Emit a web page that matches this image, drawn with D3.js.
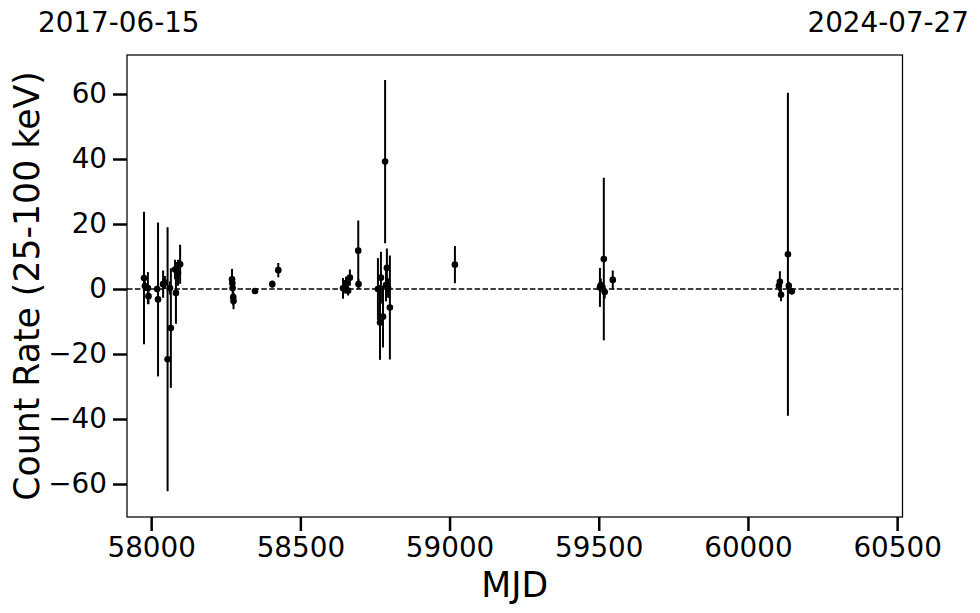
<!DOCTYPE html>
<html>
<head>
<meta charset="utf-8">
<script src="https://cdn.jsdelivr.net/npm/d3@7"></script>
<style>
  html, body { margin: 0; padding: 0; background: #fff; }
  text { font-family: "DejaVu Sans", sans-serif; fill: #000; }
</style>
</head>
<body>
<svg id="chart" width="980" height="613"></svg>
<script>
// ---- data ----
const mjd = [
  57976, 57979, 57989, 57991, 58020, 58023, 58040, 58046, 58055, 58063, 58066, 58080, 58083, 58090, 58097,
  58271, 58272, 58273, 58275, 58276, 58348, 58406, 58426,
  58643, 58650, 58653, 58660, 58666, 58694, 58695,
  58760, 58767, 58770, 58777, 58784, 58787, 58790, 58794, 58800,
  59018,
  59504, 59507, 59517, 59520, 59547,
  60104, 60107, 60111, 60134, 60137, 60147
];
const rate = [
  3.4, 0.9, 0.3, -2.2, 0.0, -3.2, 1.5, 2.0, -21.6, 0.3, -12.0, 6.0, -1.2, 5.0, 7.6,
  3.0, 1.8, 0.3, -2.5, -3.7, -0.6, 1.5, 5.8,
  0.2, 0.6, 1.8, -0.5, 3.5, 11.8, 1.5,
  0.0, -10.3, 3.5, -8.5, 39.2, 1.2, 6.5, 0.3, -5.7,
  7.5,
  0.5, 1.2, 9.2, -0.9, 2.8,
  1.0, 2.2, -1.8, 10.7, 1.0, -0.7
];
const rateErr = [
  20.4, 1.5, 4.9, 2.5, 1.0, 23.7, 4.2, 2.0, 40.6, 2.0, 18.4, 3.0, 9.5, 4.0, 6.0,
  3.2, 2.0, 2.0, 2.5, 2.5, 0.5, 1.1, 2.2,
  3.2, 2.0, 2.0, 1.5, 2.5, 9.3, 1.5,
  9.5, 11.5, 8.0, 9.5, 25.1, 5.0, 6.0, 3.0, 16.0,
  5.7,
  6.0, 2.0, 25.0, 2.0, 2.9,
  1.5, 3.3, 2.0, 49.7, 1.2, 1.0
];
const xTicks = [58000, 58500, 59000, 59500, 60000, 60500];
const yTicks = [-60, -40, -20, 0, 20, 40, 60];
const xDomain = [57919, 60518];
const yDomain = [-70.15, 72.0];
const startDate = "2017-06-15";
const endDate = "2024-07-27";
const xLabel = "MJD";
const yLabel = "Count Rate (25-100 keV)";

// ---- layout ----
const svg = d3.select("#chart");
const L = 127, R = 902.5, T = 55, B = 517;
const x = d3.scaleLinear().domain(xDomain).range([L, R]);
const y = d3.scaleLinear().domain(yDomain).range([B, T]);

svg.append("rect").attr("width", 980).attr("height", 613).attr("fill", "#fff");

const pts = mjd.map((m, i) => ({ m, v: rate[i], e: rateErr[i] }));

const plot = svg.append("g");
plot.append("clipPath").attr("id", "clip").append("rect")
  .attr("x", L).attr("y", T).attr("width", R - L).attr("height", B - T);
const g = plot.append("g").attr("clip-path", "url(#clip)");

// zero line
g.append("line")
  .attr("x1", L).attr("x2", R).attr("y1", y(0)).attr("y2", y(0))
  .attr("stroke", "#000").attr("stroke-width", 1.5)
  .attr("stroke-dasharray", "5.5,2.4");

// error bars
g.selectAll("line.err").data(pts).enter().append("line")
  .attr("class", "err")
  .attr("x1", d => x(d.m)).attr("x2", d => x(d.m))
  .attr("y1", d => y(d.v + d.e)).attr("y2", d => y(d.v - d.e))
  .attr("stroke", "#000").attr("stroke-width", 2);

// markers
g.selectAll("circle").data(pts).enter().append("circle")
  .attr("cx", d => x(d.m)).attr("cy", d => y(d.v)).attr("r", 3.3)
  .attr("fill", "#000");

// frame
svg.append("rect").attr("x", L).attr("y", T).attr("width", R - L).attr("height", B - T)
  .attr("fill", "none").attr("stroke", "#000").attr("stroke-width", 1.25);

// axes
const xAxis = d3.axisBottom(x).tickValues(xTicks).tickFormat(d3.format("d"))
  .tickSize(14).tickPadding(6);
const xg = svg.append("g").attr("transform", `translate(0,${B})`).call(xAxis);
xg.select(".domain").remove();
xg.selectAll(".tick line").attr("stroke", "#000").attr("stroke-width", 2.5);
xg.selectAll(".tick text").attr("font-size", "27.8px").attr("font-family", "DejaVu Sans").attr("fill", "#000");

const yAxis = d3.axisLeft(y).tickValues(yTicks)
  .tickFormat(d => d < 0 ? "\u2212" + Math.abs(d) : String(d))
  .tickSize(14).tickPadding(6);
const yg = svg.append("g").attr("transform", `translate(${L},0)`).call(yAxis);
yg.select(".domain").remove();
yg.selectAll(".tick line").attr("stroke", "#000").attr("stroke-width", 2.5);
yg.selectAll(".tick text").attr("font-size", "27.8px").attr("font-family", "DejaVu Sans").attr("fill", "#000");

// axis labels
svg.append("text").attr("x", (L + R) / 2).attr("y", 597)
  .attr("text-anchor", "middle").attr("font-size", "34.7px").text(xLabel);
svg.append("text").attr("transform", `translate(39,${(T + B) / 2}) rotate(-90)`)
  .attr("text-anchor", "middle").attr("font-size", "34.7px").text(yLabel);

// date labels
svg.append("text").attr("x", 38).attr("y", 32)
  .attr("font-size", "27.8px").text(startDate);
svg.append("text").attr("x", 969).attr("y", 32).attr("text-anchor", "end")
  .attr("font-size", "27.8px").text(endDate);
</script>
</body>
</html>
